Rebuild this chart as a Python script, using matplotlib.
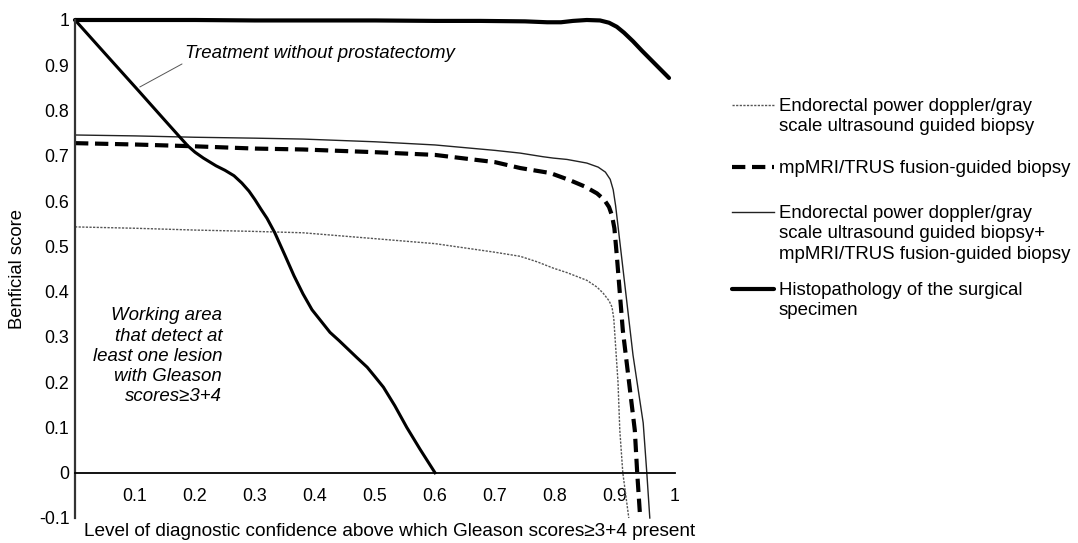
import matplotlib
matplotlib.use('Agg')
import matplotlib.pyplot as plt
from matplotlib.lines import Line2D

plt.rcParams['font.family'] = ['Liberation Sans', 'DejaVu Sans']

# x = level of diagnostic confidence, y = beneficial score
ULTRA_X = [0, 0.1, 0.2, 0.3, 0.38, 0.5, 0.6, 0.7, 0.742, 0.77, 0.797, 0.82, 0.853,
           0.87, 0.88, 0.89, 0.895, 0.898, 0.9, 0.905, 0.908, 0.913, 0.923]
ULTRA_Y = [0.543, 0.540, 0.536, 0.533, 0.530, 0.517, 0.506, 0.487, 0.478, 0.466, 0.452,
           0.442, 0.425, 0.41, 0.397, 0.38, 0.366, 0.34, 0.30, 0.2, 0.094, 0.0, -0.1]

MRI_X = [0, 0.1, 0.2, 0.3, 0.38, 0.5, 0.6, 0.7, 0.742, 0.792, 0.825, 0.85, 0.87,
         0.882, 0.89, 0.895, 0.899, 0.903, 0.913, 0.933, 0.937, 0.942]
MRI_Y = [0.728, 0.725, 0.721, 0.716, 0.714, 0.708, 0.702, 0.686, 0.673, 0.662, 0.646,
         0.632, 0.617, 0.603, 0.587, 0.568, 0.54, 0.48, 0.315, 0.094, 0.0, -0.1]

COMBO_X = [0, 0.1, 0.2, 0.3, 0.38, 0.5, 0.6, 0.7, 0.742, 0.78, 0.797, 0.82, 0.853,
           0.872, 0.884, 0.892, 0.897, 0.901, 0.905, 0.93, 0.947, 0.953, 0.958]
COMBO_Y = [0.746, 0.744, 0.741, 0.739, 0.737, 0.731, 0.724, 0.712, 0.706, 0.698, 0.695,
           0.692, 0.684, 0.675, 0.664, 0.648, 0.625, 0.59, 0.545, 0.26, 0.11, 0.0, -0.1]

HISTO_X = [0, 0.1, 0.2, 0.3, 0.4, 0.5, 0.6, 0.675, 0.75, 0.787, 0.81, 0.83, 0.853,
           0.875, 0.89, 0.903, 0.915, 0.93, 0.945, 0.96, 0.99]
HISTO_Y = [1.0, 1.0, 1.0, 0.999, 0.999, 0.999, 0.998, 0.998, 0.997, 0.995, 0.995, 0.998,
           1.0, 0.999, 0.994, 0.985, 0.972, 0.953, 0.932, 0.912, 0.872]

TREAT_X = [0, 0.05, 0.105, 0.15, 0.175, 0.188, 0.2, 0.214, 0.235, 0.25, 0.265, 0.278,
           0.29, 0.3, 0.31, 0.32, 0.333, 0.35, 0.365, 0.38, 0.395, 0.41, 0.425, 0.44,
           0.455, 0.47, 0.487, 0.5, 0.514, 0.533, 0.553, 0.575, 0.6]
TREAT_Y = [1.0, 0.926, 0.845, 0.778, 0.741, 0.722, 0.708, 0.695, 0.678, 0.668, 0.656,
           0.64, 0.622, 0.603, 0.582, 0.562, 0.530, 0.48, 0.435, 0.395, 0.36, 0.335, 0.31,
           0.292, 0.273, 0.254, 0.233, 0.212, 0.189, 0.148, 0.100, 0.052, 0.0]

X_TICKS = [0.1, 0.2, 0.3, 0.4, 0.5, 0.6, 0.7, 0.8, 0.9, 1.0]
X_TICK_LABELS = ['0.1', '0.2', '0.3', '0.4', '0.5', '0.6', '0.7', '0.8', '0.9', '1']
Y_TICKS = [-0.1, 0, 0.1, 0.2, 0.3, 0.4, 0.5, 0.6, 0.7, 0.8, 0.9, 1.0]
Y_TICK_LABELS = ['-0.1', '0', '0.1', '0.2', '0.3', '0.4', '0.5', '0.6', '0.7', '0.8', '0.9', '1']

LEGEND_LABELS = [
    'Endorectal power doppler/gray\nscale ultrasound guided biopsy',
    'mpMRI/TRUS fusion-guided biopsy',
    'Endorectal power doppler/gray\nscale ultrasound guided biopsy+\nmpMRI/TRUS fusion-guided biopsy',
    'Histopathology of the surgical\nspecimen',
]

W, H = 1078, 543
fig = plt.figure(figsize=(W / 100, H / 100), dpi=100, facecolor='white')
ax = fig.add_axes([75 / W, 25 / H, 600 / W, 498 / H])

dotted = dict(color='#555555', lw=1.0, linestyle=(0, (1.6, 1.0)))
dashed = dict(color='black', lw=3.0, linestyle=(0, (3.2, 1.6)))
thin = dict(color='#222222', lw=1.0, linestyle='-')
thick = dict(color='black', lw=3.0, linestyle='-', solid_capstyle='round')

ax.plot(ULTRA_X, ULTRA_Y, clip_on=False, **dotted)
ax.plot(MRI_X, MRI_Y, clip_on=False, **dashed)
ax.plot(COMBO_X, COMBO_Y, clip_on=False, **thin)
ax.plot(HISTO_X, HISTO_Y, clip_on=False, **thick)
ax.plot(TREAT_X, TREAT_Y, color='black', lw=2.2, clip_on=False)

ax.set_xlim(0, 1)
ax.set_ylim(-0.1, 1.0)
ax.set_xticks(X_TICKS)
ax.set_xticklabels(X_TICK_LABELS)
ax.set_yticks(Y_TICKS)
ax.set_yticklabels(Y_TICK_LABELS)
ax.tick_params(axis='x', length=0, pad=11, labelsize=12.8)
ax.tick_params(axis='y', length=0, pad=4, labelsize=12.8)

ax.spines['top'].set_visible(False)
ax.spines['right'].set_visible(False)
ax.spines['bottom'].set_position(('data', 0))
ax.spines['bottom'].set_linewidth(1.3)
ax.spines['left'].set_linewidth(1.6)
ax.spines['left'].set_color('#333333')

ax.set_ylabel('Benficial score', fontsize=13.3)
ax.yaxis.set_label_coords(-0.082, 0.5)
ax.set_xlabel('Level of diagnostic confidence above which Gleason scores\u22653+4 present',
              fontsize=13.7)
ax.xaxis.set_label_coords(0.525, -0.01)

ax.annotate('Treatment without prostatectomy', xy=(0.108, 0.852), xytext=(0.183, 0.925),
            ha='left', va='center', fontsize=13.4, style='italic',
            arrowprops=dict(arrowstyle='-', color='#555555', lw=0.7,
                            relpos=(0, 0), shrinkA=0, shrinkB=0))

ax.text(0.245, 0.2575,
        'Working area\nthat detect at\nleast one lesion\nwith Gleason\nscores\u22653+4',
        ha='right', va='center', multialignment='right', fontsize=13.4,
        style='italic', linespacing=1.24)

# legend drawn in pixel coordinates so the keys line up with the first text line
lax = fig.add_axes([0, 0, 1, 1], zorder=-1)
lax.set_xlim(0, W)
lax.set_ylim(H, 0)
lax.axis('off')
key_styles = [dotted, dashed, thin, thick]
key_rows = [105, 167, 212, 289]
for style, row, label in zip(key_styles, key_rows, LEGEND_LABELS):
    lax.add_line(Line2D([732, 774], [row, row], **style))
    lax.text(779, row - 7, label, ha='left', va='top', fontsize=13.4, linespacing=1.26)

fig.savefig('out.png', dpi=100, facecolor='white')
